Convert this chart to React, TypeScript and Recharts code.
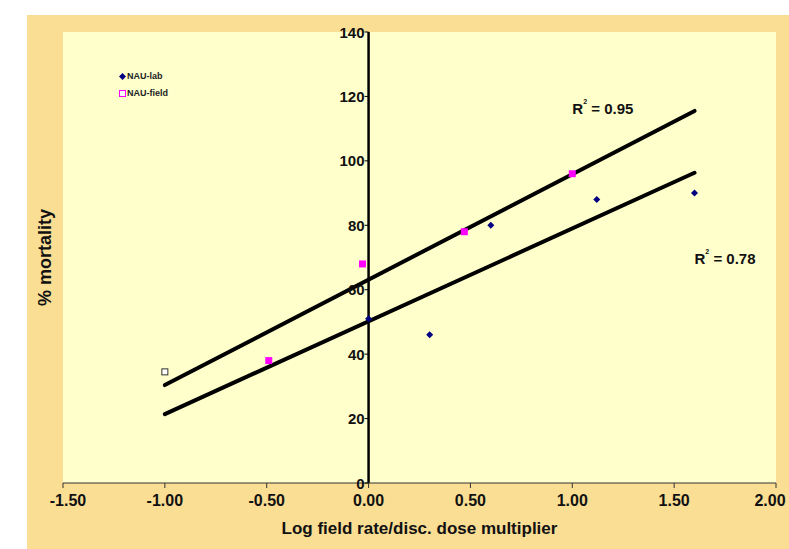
import React from "react"
import {
  ScatterChart,
  Scatter,
  XAxis,
  YAxis,
  CartesianGrid,
  ReferenceLine,
  ReferenceDot,
  Legend,
} from "recharts"

const FONT = '"Liberation Sans Narrow", "Arial Narrow", "Liberation Sans", Arial, sans-serif'

// NAU-lab points
const labX = [0.0, 0.3, 0.6, 1.12, 1.6]
const labY = [51, 46, 80, 88, 90]

// NAU-field points (first one is drawn hollow in the original)
const fieldX = [-1.0, -0.49, -0.03, 0.47, 1.0]
const fieldY = [34.5, 38, 68, 78, 96]
const fieldHollow = [true, false, false, false, false]

// trend lines: [x1, y1, x2, y2]
const fieldTrend = [-1.0, 30.4, 1.6, 115.5]
const labTrend = [-1.0, 21.4, 1.6, 96.3]

// r-squared labels: [x, y, text]
const r2Labels: [number, number, string][] = [
  [1.0, 116.5, " = 0.95"],
  [1.6, 70, " = 0.78"],
]

const xTicks = [-1.5, -1.0, -0.5, 0, 0.5, 1.0, 1.5, 2.0]
const yTicks = [0, 20, 40, 60, 80, 100, 120, 140]

const labData = labX.map((x, i) => ({ x, y: labY[i] }))
const fieldData = fieldX.map((x, i) => ({ x, y: fieldY[i], hollow: fieldHollow[i] }))

const Diamond = (props: any) => {
  const { cx, cy } = props
  const r = 3.5
  return (
    <polygon
      points={`${cx},${cy - r} ${cx + r},${cy} ${cx},${cy + r} ${cx - r},${cy}`}
      fill="#000080"
    />
  )
}

const FieldSquare = (props: any) => {
  const { cx, cy, payload } = props
  const s = 7
  if (payload?.hollow) {
    return (
      <rect x={cx - 3} y={cy - 3} width={6} height={6} fill="#fff" stroke="#333" strokeWidth={1} />
    )
  }
  return <rect x={cx - s / 2} y={cy - s / 2} width={s} height={s} fill="#FF00FF" />
}

const XTick = (props: any) => {
  const { x, y, payload, index } = props
  // end labels are nudged inward so they stay inside the frame
  const dx = index === 0 ? 5 : index === xTicks.length - 1 ? -6 : 0
  return (
    <text
      x={x + dx}
      y={y + 10}
      textAnchor="middle"
      dominantBaseline="central"
      fontFamily={FONT}
      fontWeight="bold"
      fontSize={16}
      fill="#111"
    >
      {Number(payload.value).toFixed(2)}
    </text>
  )
}

const YTick = (props: any) => {
  const { cx, cy, value } = props
  return (
    <g>
      <line x1={cx - 4} y1={cy} x2={cx} y2={cy} stroke="#000" strokeWidth={1} />
      <text
        x={cx - 4}
        y={cy}
        textAnchor="end"
        dominantBaseline="central"
        fontFamily={FONT}
        fontWeight="bold"
        fontSize={15}
        fill="#111"
      >
        {value}
      </text>
    </g>
  )
}

const R2Text = (props: any) => {
  const { cx, cy, text } = props
  return (
    <text x={cx} y={cy} fontFamily={FONT} fontWeight="bold" fontSize={15} fill="#111" dominantBaseline="central">
      <tspan>R</tspan>
      <tspan fontSize={7} dy={-7}>2</tspan>
      <tspan dy={7}>{text}</tspan>
    </text>
  )
}

const LegendBox = () => (
  <div style={{ fontFamily: FONT, fontWeight: "bold", fontSize: 9, color: "#222", lineHeight: "17px" }}>
    <div style={{ display: "flex", alignItems: "center" }}>
      <svg width={7} height={7} style={{ marginRight: 1 }}>
        <polygon points="3.5,0 7,3.5 3.5,7 0,3.5" fill="#000080" />
      </svg>
      NAU-lab
    </div>
    <div style={{ display: "flex", alignItems: "center" }}>
      <svg width={7} height={7} style={{ marginRight: 1 }}>
        <rect x={0.5} y={0.5} width={6} height={6} fill="#fff" stroke="#FF00FF" strokeWidth={1} />
      </svg>
      NAU-field
    </div>
  </div>
)

export default function App() {
  return (
    <div
      style={{
        position: "absolute",
        left: 27,
        top: 15,
        width: 762,
        height: 534,
        background: "#F9DE94",
      }}
    >
      <ScatterChart width={762} height={534} margin={{ top: 17, right: 13, bottom: 0, left: 0 }}>
        <CartesianGrid horizontal={false} vertical={false} fill="#FFFFCC" />
        <XAxis
          type="number"
          dataKey="x"
          domain={[-1.5, 2]}
          ticks={xTicks}
          interval={0}
          height={66}
          tick={<XTick />}
          axisLine={{ stroke: "#333", strokeWidth: 1 }}
          tickLine={{ stroke: "#333" }}
          tickSize={5}
          label={{
            value: "Log field rate/disc. dose multiplier",
            position: "insideBottom",
            offset: 15,
            style: { fontFamily: FONT, fontWeight: "bold", fontSize: 17, fill: "#111" },
          }}
        />
        <YAxis
          type="number"
          dataKey="y"
          domain={[0, 140]}
          ticks={yTicks}
          width={36}
          tick={false}
          axisLine={false}
          tickLine={false}
          label={{
            value: "% mortality",
            angle: -90,
            position: "center",
            style: { fontFamily: FONT, fontWeight: "bold", fontSize: 18, fill: "#111" },
          }}
        />
        <ReferenceLine x={0} stroke="#000" strokeWidth={2.5} />
        {yTicks.map((v) => (
          <ReferenceDot key={v} x={0} y={v} ifOverflow="visible" shape={(p: any) => <YTick {...p} value={v} />} />
        ))}
        <ReferenceLine
          segment={[
            { x: fieldTrend[0], y: fieldTrend[1] },
            { x: fieldTrend[2], y: fieldTrend[3] },
          ]}
          stroke="#000"
          strokeWidth={4}
          strokeLinecap="round"
        />
        <ReferenceLine
          segment={[
            { x: labTrend[0], y: labTrend[1] },
            { x: labTrend[2], y: labTrend[3] },
          ]}
          stroke="#000"
          strokeWidth={4}
          strokeLinecap="round"
        />
        {r2Labels.map(([x, y, t]) => (
          <ReferenceDot key={t} x={x} y={y} ifOverflow="visible" shape={(p: any) => <R2Text {...p} text={t} />} />
        ))}
        <Scatter name="NAU-lab" data={labData} shape={Diamond} isAnimationActive={false} />
        <Scatter name="NAU-field" data={fieldData} shape={FieldSquare} isAnimationActive={false} />
        <Legend
          content={() => <LegendBox />}
          layout="horizontal"
          verticalAlign="middle"
          align="center"
          wrapperStyle={{ top: 53, left: 92, width: 80 }}
        />
      </ScatterChart>
    </div>
  )
}
